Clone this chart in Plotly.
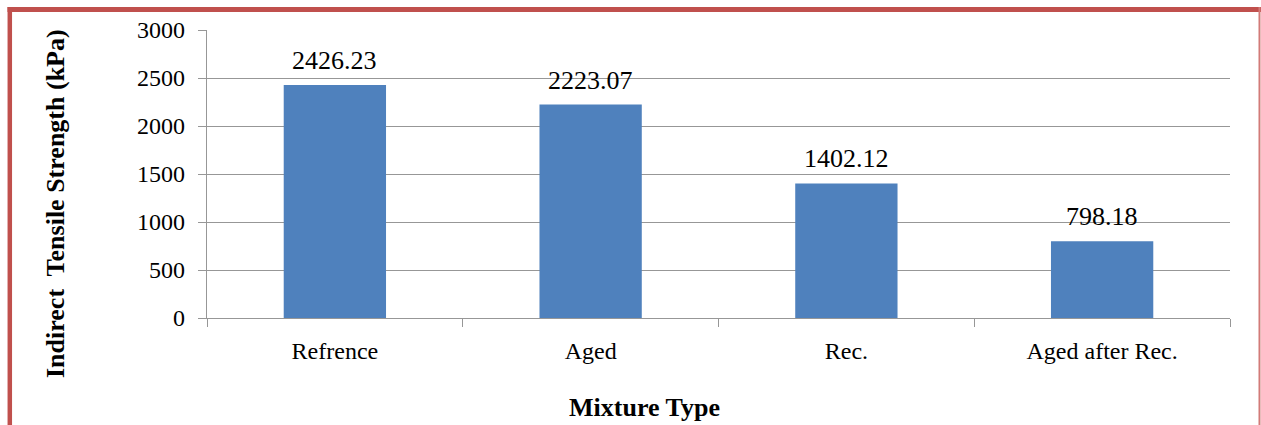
import plotly.graph_objects as go

# Mixture categories and measured indirect tensile strength (kPa)
mixtures = ["Refrence", "Aged", "Rec.", "Aged after Rec."]
its_kpa = [2426.23, 2223.07, 1402.12, 798.18]
value_labels = ["2426.23", "2223.07", "1402.12", "798.18"]

y_ticks = [0, 500, 1000, 1500, 2000, 2500, 3000]

W, H = 1261, 425
L, R, T, B = 207, 31, 30, 107

serif = "Liberation Serif, Times New Roman, serif"
bar_color = "#4F81BD"
grid_color = "#979797"
frame_red = "#C0504D"

fig = go.Figure()
fig.add_trace(go.Bar(
    x=mixtures,
    y=its_kpa,
    marker=dict(color=bar_color, line=dict(width=0)),
    width=0.4,
    hoverinfo="x+y",
))

annotations = []
for cat, val, lab in zip(mixtures, its_kpa, value_labels):
    annotations.append(dict(
        x=cat, y=val, xref="x", yref="y",
        text=lab, showarrow=False,
        yanchor="bottom", yshift=8,
        font=dict(family=serif, size=26, color="#000000"),
    ))

pw = W - L - R
ph = H - T - B


def px_x(px):
    return (px - L) / pw


def px_y(py):
    return (H - B - py) / ph


# Axis titles
annotations.append(dict(
    x=px_x(55), y=px_y(204), xref="paper", yref="paper",
    text="<b>Indirect\u00a0 Tensile Strength (kPa)</b>", showarrow=False,
    textangle=-90, xanchor="center", yanchor="middle",
    font=dict(family=serif, size=26, color="#000000"),
))
annotations.append(dict(
    x=px_x(644), y=px_y(407), xref="paper", yref="paper",
    text="<b>Mixture Type</b>", showarrow=False,
    xanchor="center", yanchor="middle",
    font=dict(family=serif, size=26, color="#000000"),
))

# Red outer frame of the chart area
shapes = [
    dict(type="line", xref="paper", yref="paper",
         x0=px_x(7.5), x1=px_x(1261), y0=px_y(9.5), y1=px_y(9.5),
         line=dict(color=frame_red, width=5)),
    dict(type="line", xref="paper", yref="paper",
         x0=px_x(9.8), x1=px_x(9.8), y0=px_y(7), y1=px_y(430),
         line=dict(color=frame_red, width=4.5)),
    dict(type="line", xref="paper", yref="paper",
         x0=px_x(1259.5), x1=px_x(1259.5), y0=px_y(7), y1=px_y(430),
         line=dict(color="#D27B78", width=2)),
]

fig.update_layout(
    width=W, height=H,
    margin=dict(l=L, r=R, t=T, b=B, pad=0),
    paper_bgcolor="#FFFFFF",
    plot_bgcolor="#FFFFFF",
    showlegend=False,
    bargap=0.6,
    annotations=annotations,
    shapes=shapes,
    font=dict(family=serif, color="#000000"),
)

fig.update_xaxes(
    type="category",
    showgrid=False,
    showline=True, linecolor=grid_color, linewidth=1.3,
    ticks="outside", tickson="boundaries", ticklen=8,
    tickcolor=grid_color, tickwidth=1.3,
    tickfont=dict(family=serif, size=24, color="#000000"),
    ticklabelstandoff=11,
    zeroline=False,
)

fig.update_yaxes(
    range=[0, 3000],
    tickvals=y_ticks,
    showgrid=True, gridcolor=grid_color, gridwidth=1.3,
    showline=True, linecolor=grid_color, linewidth=1.3,
    ticks="outside", ticklen=8, tickcolor=grid_color, tickwidth=1.3,
    tickfont=dict(family=serif, size=24, color="#000000"),
    ticklabelstandoff=8,
    zeroline=False,
)

fig.write_html("out.html")
